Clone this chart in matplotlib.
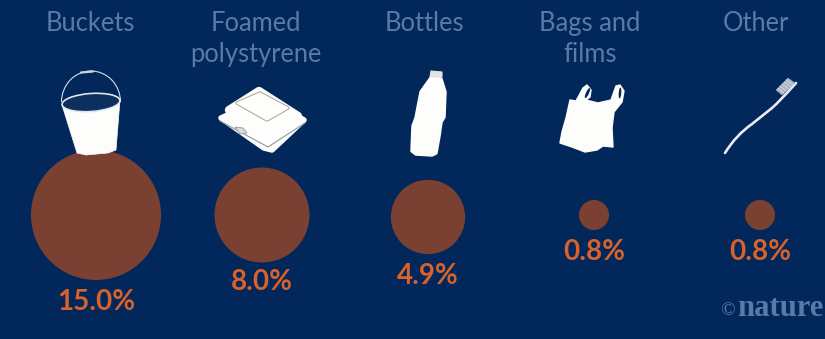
import numpy as np
from matplotlib import pyplot as plt
from matplotlib.patches import Arc, Circle, Ellipse, PathPatch, Polygon
from matplotlib.path import Path

categories = ['Buckets', 'Foamed\npolystyrene', 'Bottles', 'Bags and\nfilms', 'Other']
shares = [15.0, 8.0, 4.9, 0.8, 0.8]
labels = ['15.0%', '8.0%', '4.9%', '0.8%', '0.8%']

BG = '#02275a'
BROWN = '#7a4132'
ORANGE = '#d8622a'
TITLE = '#5a7ba6'
WHITE = '#fdfdfb'

centre_x = [96, 262, 428, 594, 760]
centre_y = [215, 215, 217, 215, 215]
title_x = [90, 256, 424, 590, 756]
label_y = [302, 282, 276, 252, 252]

plt.rcParams['font.family'] = ['Lato', 'DejaVu Sans']

fig = plt.figure(figsize=(8.25, 3.39), dpi=100, facecolor=BG)
ax = fig.add_axes([0, 0, 1, 1])
ax.set_xlim(0, 825)
ax.set_ylim(339, 0)
ax.axis('off')


def blob(points, color, z=3, lw=1.5, ec=None):
    # filled outline with rounded corners from the stroke
    ax.add_patch(Polygon(points, fc=color, ec=ec or color, lw=lw, joinstyle='round', zorder=z))


def bucket():
    ax.add_patch(Arc((91, 102), 59, 62, theta1=180, theta2=360, ec='#d5dde8', lw=0.8, zorder=2))
    ax.plot([81, 93], [72.5, 71.5], color='#c9d3e0', lw=1.6, solid_capstyle='round', zorder=3)
    blob([(62, 105), (120, 100), (116, 150), (108, 153), (86, 155), (77, 153)], WHITE, z=4, lw=0.5)
    ax.add_patch(Ellipse((91, 102.5), 58, 18, angle=-4, fc='#0c2f5e', ec='#dfe6ef', lw=1.2, zorder=5))


def foam_box():
    # base tray, rim line, then the lid with its raised square
    blob([(221, 118), (232, 113), (292, 113), (304, 120), (272, 150), (264, 148)], WHITE, z=3, lw=4)
    ax.plot([220, 268, 305], [121, 147, 123], color='#8f98a2', lw=0.8, zorder=4)
    blob([(229, 110), (259, 91), (298, 116), (272, 138), (236, 122)], WHITE, z=5, lw=6)
    blob([(237, 103), (260, 93), (288, 108), (267, 120)], WHITE, z=6, lw=2.5, ec='#aaa79b')
    blob([(237, 103), (260, 93), (288, 108), (267, 120)], WHITE, z=7, lw=1)
    blob([(235, 127), (243, 128), (247, 133), (240, 134)], '#d8dadb', z=8, lw=0.6, ec='#8f98a2')


def bottle():
    blob([(431, 71), (442, 72), (442, 77), (430, 77)], '#e4e5e2', z=4, lw=0.8)
    blob([(431, 78), (441, 79), (445, 92), (444, 117), (441, 122), (439, 136), (436, 153),
          (432, 155), (416, 154), (412, 151), (413, 126), (416, 118), (421, 92)], WHITE, z=3, lw=2.5)


def bag():
    blob([(570, 100), (576, 101), (583, 88), (587, 85), (591, 90), (590, 97), (586, 100),
          (598, 103), (611, 100), (616, 86), (620, 85), (624, 91), (622, 102), (614, 112),
          (612, 128), (613, 147), (603, 146), (597, 150), (585, 152), (572, 147), (560, 143),
          (562, 132), (566, 118)], WHITE, z=3, lw=1)
    ax.add_patch(Ellipse((587.5, 93), 3, 11, angle=25, fc=BG, ec='none', zorder=4))
    ax.add_patch(Ellipse((620, 93), 2.5, 11, angle=5, fc=BG, ec='none', zorder=4))


def toothbrush():
    path = Path([(725, 153), (736, 135), (752, 124), (772, 108), (780, 101), (796, 83)],
                [Path.MOVETO, Path.CURVE3, Path.CURVE3, Path.LINETO, Path.CURVE3, Path.CURVE3])
    ax.add_patch(PathPatch(path, fc='none', ec='#e9edf1', lw=1.9, capstyle='round', zorder=3))
    blob([(776, 90), (788, 78), (795, 83), (782, 95)], '#a9b4c3', z=4, lw=0.3)
    for t in np.linspace(0.15, 0.85, 5):
        ax.plot([776 + 12 * t, 782 + 13 * t], [90 - 12 * t, 95 - 12 * t], color='#dde3ea', lw=0.5, zorder=5)


for i in range(len(categories)):
    # area of each circle follows the share
    r = 65 * np.sqrt(shares[i] / shares[0])
    ax.add_patch(Circle((centre_x[i], centre_y[i]), r, fc=BROWN, ec='none', zorder=1))
    ax.text(title_x[i], 11, categories[i], color=TITLE, fontsize=18.4,
            ha='center', va='top', linespacing=1.3)
    ax.text(centre_x[i], label_y[i], labels[i], color=ORANGE, fontsize=20, fontweight='bold',
            ha='center', va='center')

bucket()
foam_box()
bottle()
bag()
toothbrush()

ax.text(720, 311, '©', color=TITLE, fontsize=14, family='Liberation Serif', va='center')
ax.text(737, 309, 'nature', color=TITLE, fontsize=22, family='Liberation Serif', fontweight='bold',
        va='center')

fig.savefig('out.png', dpi=100, facecolor=BG)
